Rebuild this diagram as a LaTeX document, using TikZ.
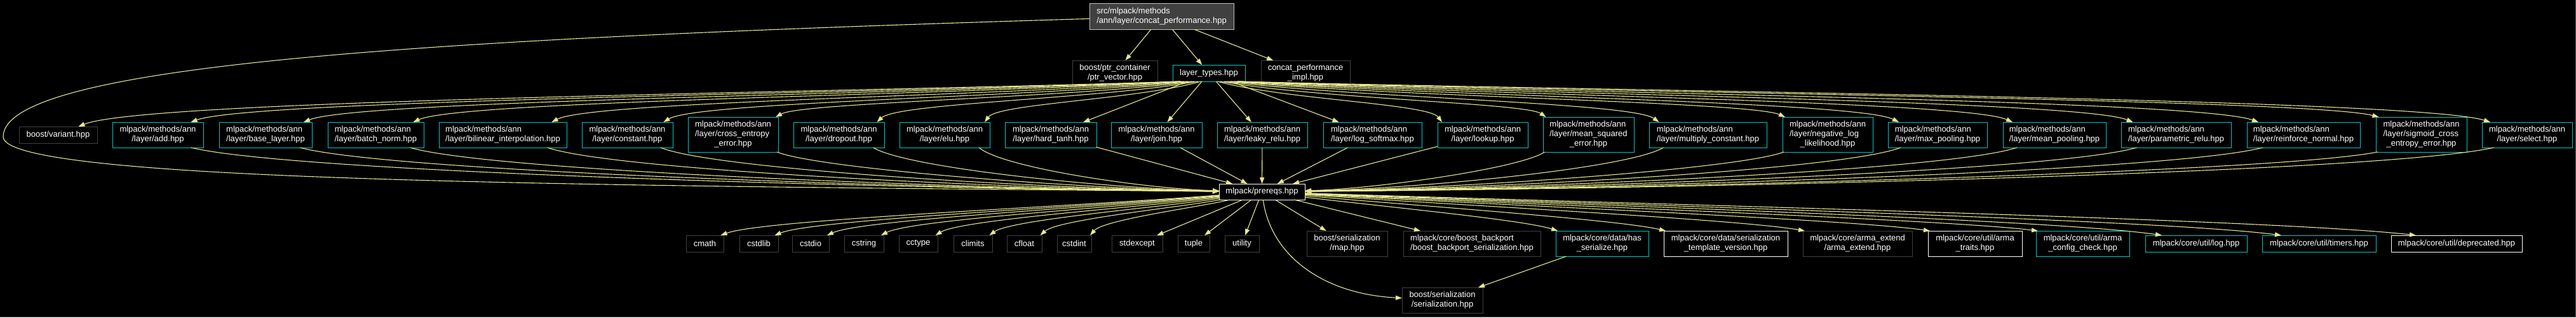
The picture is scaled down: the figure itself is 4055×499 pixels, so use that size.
\documentclass[tikz,border=0pt]{standalone}
\usepackage{fontspec}
\setmainfont{Liberation Sans}
\usetikzlibrary{arrows.meta}
\definecolor{edgec}{RGB}{232,232,145}
\definecolor{boxgrey}{RGB}{64,64,64}
\definecolor{boxcyan}{RGB}{0,200,200}
\definecolor{rootfill}{RGB}{64,64,64}
\definecolor{rootline}{RGB}{191,191,191}
\definecolor{framegrey}{RGB}{96,96,96}
\newcommand{\twol}[2]{\begin{tabular}{@{}l@{}}#1\\\multicolumn{1}{@{}c@{}}{#2}\end{tabular}}
\newcommand{\threel}[3]{\begin{tabular}{@{}l@{}}#1\\#2\\\multicolumn{1}{@{}c@{}}{#3}\end{tabular}}
\begin{document}
\begin{tikzpicture}[x=1pt,y=-1pt,
  box/.style={draw, line width=1pt, fill=black, text=white, inner sep=0pt, outer sep=0pt, font=\fontsize{13pt}{15pt}\selectfont},
  gbox/.style={box, draw=boxgrey},
  cbox/.style={box, draw=boxcyan},
  wbox/.style={box, draw=white},
  rbox/.style={box, draw=rootline, fill=rootfill},
  bw/.style={minimum width=#1pt},
  hone/.style={minimum height=26pt},
  htwo/.style={minimum height=40pt},
  hthree/.style={minimum height=55pt},
  conn/.style={draw=edgec, line width=1.1pt, -{Triangle[length=10pt,width=7pt]}}
]
\useasboundingbox (0,0) rectangle (4055,499);
\fill[black] (0,0) rectangle (4055,499);
\draw[framegrey, line width=1pt] (0,498.5) -- (4054.5,498.5) -- (4054.5,0);

% row 0
\node[rbox, bw=227, minimum height=41pt] (root) at (1828.5,26) {\twol{src/mlpack/methods}{/ann/layer/concat\_performance.hpp}};
% row 1
\node[gbox, bw=134, htwo] (ptr) at (1755,115) {\twol{boost/ptr\_container}{/ptr\_vector.hpp}};
\node[cbox, bw=114, hone] (lt) at (1903,115) {layer\_types.hpp};
\node[gbox, bw=140, htwo] (cimpl) at (2055,115) {\twol{concat\_performance}{\_impl.hpp}};
% row 2
\node[gbox, bw=123, hone] (variant) at (91.5,212) {boost/variant.hpp};
\node[cbox, bw=143, htwo] (add) at (248.5,212) {\twol{mlpack/methods/ann}{/layer/add.hpp}};
\node[cbox, bw=146, htwo] (base) at (418,212) {\twol{mlpack/methods/ann}{/layer/base\_layer.hpp}};
\node[cbox, bw=151, htwo] (batch) at (591.5,212) {\twol{mlpack/methods/ann}{/layer/batch\_norm.hpp}};
\node[cbox, bw=201, htwo] (bilin) at (791.5,212) {\twol{mlpack/methods/ann}{/layer/bilinear\_interpolation.hpp}};
\node[cbox, bw=143, htwo] (const) at (987.5,212) {\twol{mlpack/methods/ann}{/layer/constant.hpp}};
\node[cbox, bw=142, hthree] (cross) at (1154,211.5) {\threel{mlpack/methods/ann}{/layer/cross\_entropy}{\_error.hpp}};
\node[cbox, bw=143, htwo] (drop) at (1320.5,212) {\twol{mlpack/methods/ann}{/layer/dropout.hpp}};
\node[cbox, bw=142, htwo] (elu) at (1487,212) {\twol{mlpack/methods/ann}{/layer/elu.hpp}};
\node[cbox, bw=144, htwo] (htanh) at (1654,212) {\twol{mlpack/methods/ann}{/layer/hard\_tanh.hpp}};
\node[cbox, bw=143, htwo] (join) at (1820.5,212) {\twol{mlpack/methods/ann}{/layer/join.hpp}};
\node[cbox, bw=142, htwo] (leaky) at (1987,212) {\twol{mlpack/methods/ann}{/layer/leaky\_relu.hpp}};
\node[cbox, bw=155, htwo] (lsm) at (2160.5,212) {\twol{mlpack/methods/ann}{/layer/log\_softmax.hpp}};
\node[cbox, bw=142, htwo] (lookup) at (2334,212) {\twol{mlpack/methods/ann}{/layer/lookup.hpp}};
\node[cbox, bw=143, hthree] (mse) at (2500.5,211.5) {\threel{mlpack/methods/ann}{/layer/mean\_squared}{\_error.hpp}};
\node[cbox, bw=185, htwo] (mulc) at (2688.5,212) {\twol{mlpack/methods/ann}{/layer/multiply\_constant.hpp}};
\node[cbox, bw=142, hthree] (nll) at (2877,211.5) {\threel{mlpack/methods/ann}{/layer/negative\_log}{\_likelihood.hpp}};
\node[cbox, bw=156, htwo] (maxp) at (3050,212) {\twol{mlpack/methods/ann}{/layer/max\_pooling.hpp}};
\node[cbox, bw=162, htwo] (meanp) at (3234,212) {\twol{mlpack/methods/ann}{/layer/mean\_pooling.hpp}};
\node[cbox, bw=173, htwo] (prelu) at (3425.5,212) {\twol{mlpack/methods/ann}{/layer/parametric\_relu.hpp}};
\node[cbox, bw=178, htwo] (rnorm) at (3626,212) {\twol{mlpack/methods/ann}{/layer/reinforce\_normal.hpp}};
\node[cbox, bw=143, hthree] (sig) at (3811.5,211.5) {\threel{mlpack/methods/ann}{/layer/sigmoid\_cross}{\_entropy\_error.hpp}};
\node[cbox, bw=142, htwo] (select) at (3978,212) {\twol{mlpack/methods/ann}{/layer/select.hpp}};
% row 3
\node[wbox, bw=135, minimum height=25pt] (prereqs) at (1986.5,301.5) {mlpack/prereqs.hpp};
% row 4
\node[gbox, bw=59, hone] (cmath) at (1109.5,383) {cmath};
\node[gbox, bw=61, hone] (cstdlib) at (1194.5,383) {cstdlib};
\node[gbox, bw=58, hone] (cstdio) at (1276,383) {cstdio};
\node[gbox, bw=62, hone] (cstring) at (1360,383) {cstring};
\node[gbox, bw=61, hone] (cctype) at (1445.5,383) {cctype};
\node[gbox, bw=61, hone] (climits) at (1531.5,383) {climits};
\node[gbox, bw=55, hone] (cfloat) at (1612.5,383) {cfloat};
\node[gbox, bw=54, hone] (cstdint) at (1691,383) {cstdint};
\node[gbox, bw=80, hone] (stdexcept) at (1790,383) {stdexcept};
\node[gbox, bw=50, hone] (tuple) at (1879,383) {tuple};
\node[gbox, bw=54, hone] (utility) at (1955,383) {utility};
\node[gbox, bw=127, htwo] (map) at (2120.5,383) {\twol{boost/serialization}{/map.hpp}};
\node[gbox, bw=216, htwo] (backport) at (2317,383) {\twol{mlpack/core/boost\_backport}{/boost\_backport\_serialization.hpp}};
\node[cbox, bw=146, htwo] (hasser) at (2522,383) {\twol{mlpack/core/data/has}{\_serialize.hpp}};
\node[wbox, bw=195, htwo] (tmplv) at (2716.5,383) {\twol{mlpack/core/data/serialization}{\_template\_version.hpp}};
\node[gbox, bw=172, htwo] (armaext) at (2924,383) {\twol{mlpack/core/arma\_extend}{/arma\_extend.hpp}};
\node[wbox, bw=148, htwo] (armatr) at (3109,383) {\twol{mlpack/core/util/arma}{\_traits.hpp}};
\node[cbox, bw=147, htwo] (armacfg) at (3278.5,383) {\twol{mlpack/core/util/arma}{\_config\_check.hpp}};
\node[cbox, bw=160, hone] (log) at (3457,383) {mlpack/core/util/log.hpp};
\node[cbox, bw=179, hone] (timers) at (3650.5,383) {mlpack/core/util/timers.hpp};
\node[wbox, bw=206, hone] (depr) at (3867,383) {mlpack/core/util/deprecated.hpp};
% row 5
\node[gbox, bw=127, htwo] (ser) at (2270.5,472) {\twol{boost/serialization}{/serialization.hpp}};

\coordinate (loopL) at (5,215);

% root edges
\draw[conn] (root) -- (ptr);
\draw[conn] (root) -- (lt);
\draw[conn] (root) -- (cimpl);
\draw[conn] (root) .. controls (700,60) and (5,100) .. (loopL) .. controls (5,285) and (900,292) .. (prereqs);

% layer_types fan
\draw[conn] (lt) -- (htanh);
\draw[conn] (lt) -- (join);
\draw[conn] (lt) -- (leaky);
\draw[conn] (lt) -- (lsm);
\foreach \nm/\cx/\of in {variant/91.5/32, add/248.5/52, base/418/60, batch/591.5/59, bilin/791.5/77, const/987.5/57, cross/1154/67, drop/1320.5/60, elu/1487/63, lookup/2334/-64, mse/2500.5/-67, mulc/2688.5/-77, nll/2877/-67, maxp/3050/-61, meanp/3234/-66, prelu/3425.5/-68, rnorm/3626/-71, sig/3811.5/-67, select/3978/-58}{
  \pgfmathsetmacro\myTx{\cx+\of}
  \pgfmathsetmacro\myDx{\cx-1903}
  \pgfmathsetmacro\mySh{max(-45,min(45,0.03*\myDx))}
  \pgfmathsetmacro\myAx{1903+\mySh+0.3*(\myTx-1903-\mySh)}
  \pgfmathsetmacro\myAy{160-0.008*abs(\myDx)}
  \pgfmathsetmacro\myBx{\myTx-0.06*(\myTx-1903)}
  \pgfmathsetmacro\myBy{165-0.005*abs(\myDx)}
  \draw[conn] ([xshift=\mySh pt]lt.south) .. controls (\myAx,\myAy) and (\myBx,\myBy) .. ([xshift=\of pt]\nm.north);
}

% layers to prereqs
\draw[conn] (htanh) -- (prereqs);
\draw[conn] (join) -- (prereqs);
\draw[conn] (leaky) -- (prereqs);
\draw[conn] (lsm) -- (prereqs);
\draw[conn] (lookup) -- (prereqs);
\foreach \nm/\cx/\of in {add/248.5/52, base/418/54, batch/591.5/54, bilin/791.5/70, const/987.5/52, cross/1154/69, drop/1320.5/54, elu/1487/54}{
  \pgfmathsetmacro\mySx{\cx+\of}
  \pgfmathsetmacro\myAx{\mySx+0.1*(1919-\mySx)}
  \pgfmathsetmacro\myAy{262+0.006*(1919-\mySx)}
  \pgfmathsetmacro\myBx{1919-0.3*(1919-\mySx)}
  \draw[conn] ([xshift=\of pt]\nm.south) .. controls (\myAx,\myAy) and (\myBx,297) .. (prereqs);
}
\foreach \nm/\cx/\of in {mse/2500.5/-69, mulc/2688.5/-70, nll/2877/-69, maxp/3050/-58, meanp/3234/-59, prelu/3425.5/-62, rnorm/3626/-64, sig/3811.5/-69, select/3978/-52}{
  \pgfmathsetmacro\mySx{\cx+\of}
  \pgfmathsetmacro\myAx{\mySx-0.1*(\mySx-2054)}
  \pgfmathsetmacro\myAy{262+0.006*(\mySx-2054)}
  \pgfmathsetmacro\myBx{2054+0.3*(\mySx-2054)}
  \draw[conn] ([xshift=\of pt]\nm.south) .. controls (\myAx,\myAy) and (\myBx,297) .. (prereqs);
}

% prereqs to bottom row
\foreach \nm/\cx/\of in {cmath/1109.5/25, cstdlib/1194.5/25, cstdio/1276/26, cstring/1360/27, cctype/1445.5/27, climits/1531.5/26, cfloat/1612.5/25, cstdint/1691/25}{
  \pgfmathsetmacro\myTx{\cx+\of}
  \pgfmathsetmacro\myAx{1986.5-0.35*(1986.5-\myTx)}
  \pgfmathsetmacro\myBx{\myTx+0.08*(1986.5-\myTx)}
  \draw[conn] (prereqs) .. controls (\myAx,325) and (\myBx,345) .. ([xshift=\of pt]\nm.north);
}
\draw[conn] (prereqs) -- (stdexcept);
\draw[conn] (prereqs) -- (tuple);
\draw[conn] (prereqs) -- (utility);
\draw[conn] (prereqs) -- (map);
\draw[conn] (prereqs) -- (backport);
\foreach \nm/\lx/\of in {hasser/2449/3, tmplv/2619/3, armaext/2838/3, armatr/3035/3, armacfg/3205/3, log/3377/26, timers/3561/30, depr/3764/39}{
  \pgfmathsetmacro\myTx{\lx+\of}
  \pgfmathsetmacro\myAx{1986.5+0.35*(\myTx-1986.5)}
  \pgfmathsetmacro\myBx{\myTx-0.12*(\myTx-1986.5)}
  \draw[conn] (prereqs) .. controls (\myAx,322) and (\myBx,345) .. ([xshift=\of pt]\nm.north west);
}
\draw[conn] (prereqs) .. controls (2000,400) and (2080,462) .. (ser);
\draw[conn] (hasser) -- (ser);
\end{tikzpicture}
\end{document}
